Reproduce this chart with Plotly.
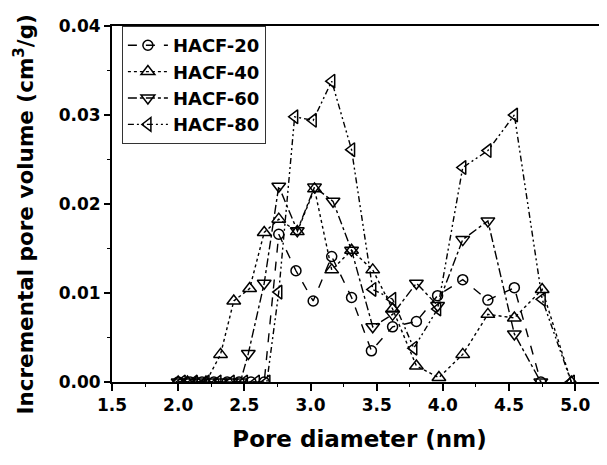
import plotly.graph_objects as go

# ---- data ----
x_20 = [2.00, 2.09, 2.18, 2.27, 2.37, 2.46, 2.55, 2.65, 2.76, 2.89, 3.02, 3.16, 3.31, 3.46, 3.62, 3.80, 3.96, 4.15, 4.34, 4.54, 4.74]
y_20 = [0, 0, 0, 0, 0, 0, 0, 0, 0.0166, 0.0125, 0.0091, 0.0141, 0.0095, 0.0035, 0.0062, 0.0068, 0.0097, 0.0115, 0.0092, 0.0106, 0]

x_40 = [2.00, 2.07, 2.14, 2.21, 2.32, 2.42, 2.54, 2.65, 2.76, 2.90, 3.03, 3.16, 3.31, 3.47, 3.62, 3.80, 3.97, 4.15, 4.34, 4.54, 4.75, 4.97]
y_40 = [0, 0, 0, 0, 0.0031, 0.0091, 0.0105, 0.0168, 0.0183, 0.0169, 0.0217, 0.0126, 0.0148, 0.0126, 0.0082, 0.0018, 0.0005, 0.0031, 0.0076, 0.0072, 0.0104, 0]

x_60 = [2.00, 2.08, 2.16, 2.24, 2.32, 2.40, 2.47, 2.53, 2.65, 2.76, 2.90, 3.03, 3.17, 3.31, 3.47, 3.62, 3.80, 3.96, 4.15, 4.34, 4.54, 4.74]
y_60 = [0, 0, 0, 0, 0, 0, 0, 0.0032, 0.0111, 0.0220, 0.0170, 0.0219, 0.0203, 0.0148, 0.0062, 0.0076, 0.0111, 0.0086, 0.0160, 0.0181, 0.0054, 0]

x_80 = [2.03, 2.12, 2.21, 2.30, 2.40, 2.50, 2.59, 2.67, 2.76, 2.88, 3.02, 3.16, 3.31, 3.47, 3.62, 3.78, 3.96, 4.15, 4.34, 4.54, 4.75, 4.97]
y_80 = [0, 0, 0, 0, 0, 0, 0, 0, 0.0101, 0.0298, 0.0294, 0.0338, 0.0261, 0.0104, 0.0093, 0.0038, 0.0082, 0.0241, 0.0260, 0.0300, 0.0093, 0]

names = ["HACF-20", "HACF-40", "HACF-60", "HACF-80"]
x_ticks = [1.5, 2.0, 2.5, 3.0, 3.5, 4.0, 4.5, 5.0]
y_ticks = [0.00, 0.01, 0.02, 0.03, 0.04]

# ---- styles ----
FONT = "DejaVu Sans"
series = [
    (x_20, y_20, names[0], "circle-open", "dash", 10),
    (x_40, y_40, names[1], "triangle-up-open", "dot", 12),
    (x_60, y_60, names[2], "triangle-down-open", "dashdot", 12),
    (x_80, y_80, names[3], "triangle-left-open", "6px,3px,2px,3px,2px,3px", 12),
]

fig = go.Figure()
for xs, ys, nm, sym, dash, sz in series:
    fig.add_trace(go.Scatter(
        x=xs, y=ys, name=nm, mode="lines+markers",
        line=dict(color="black", width=1.4, dash=dash),
        marker=dict(symbol=sym, size=sz, color="black", line=dict(color="black", width=1.5)),
    ))

axis_font = dict(family=FONT, size=17, color="black", weight="bold")

fig.update_layout(
    width=607, height=465,
    margin=dict(l=104, r=8, t=8, b=91),
    paper_bgcolor="white", plot_bgcolor="white",
    font=dict(family=FONT, color="black"),
    showlegend=True,
    legend=dict(
        x=0.02, y=1.0, xanchor="left", yanchor="top",
        bgcolor="white", bordercolor="#333", borderwidth=1,
        font=dict(family=FONT, size=18, color="black", weight="bold"),
        itemwidth=40, tracegroupgap=0,
    ),
    xaxis=dict(
        range=[1.5, 5.24], tickvals=x_ticks, ticktext=[f"{v:.1f}" for v in x_ticks],
        ticks="outside", ticklen=7, tickwidth=1.5, tickcolor="black",
        minor=dict(dtick=0.25, tick0=1.5, ticks="outside", ticklen=3, tickwidth=1, tickcolor="black"),
        showline=True, linecolor="black", linewidth=2, mirror=True,
        showgrid=False, zeroline=False,
        tickfont=axis_font, ticklabeloverflow="allow",
        title=dict(text="Pore diameter (nm)", font=dict(family=FONT, size=23, color="black", weight="bold"), standoff=16),
    ),
    yaxis=dict(
        range=[0, 0.04], tickvals=y_ticks, ticktext=[f"{v:.2f}" for v in y_ticks],
        ticks="outside", ticklen=6, tickwidth=1.5, tickcolor="black",
        minor=dict(dtick=0.005, tick0=0, ticks="outside", ticklen=3, tickwidth=1, tickcolor="black"),
        showline=True, linecolor="black", linewidth=2, mirror=False,
        showgrid=False, zeroline=False,
        tickfont=axis_font, ticklabeloverflow="allow",
    ),
    annotations=[dict(
        text="Incremental pore volume (cm<sup>3</sup>/g)",
        xref="paper", yref="paper", x=-0.178, y=0.47,
        xanchor="center", yanchor="middle", textangle=-90, showarrow=False,
        font=dict(family=FONT, size=21.5, color="black", weight="bold"),
    )],
)

fig.write_html("out.html")
